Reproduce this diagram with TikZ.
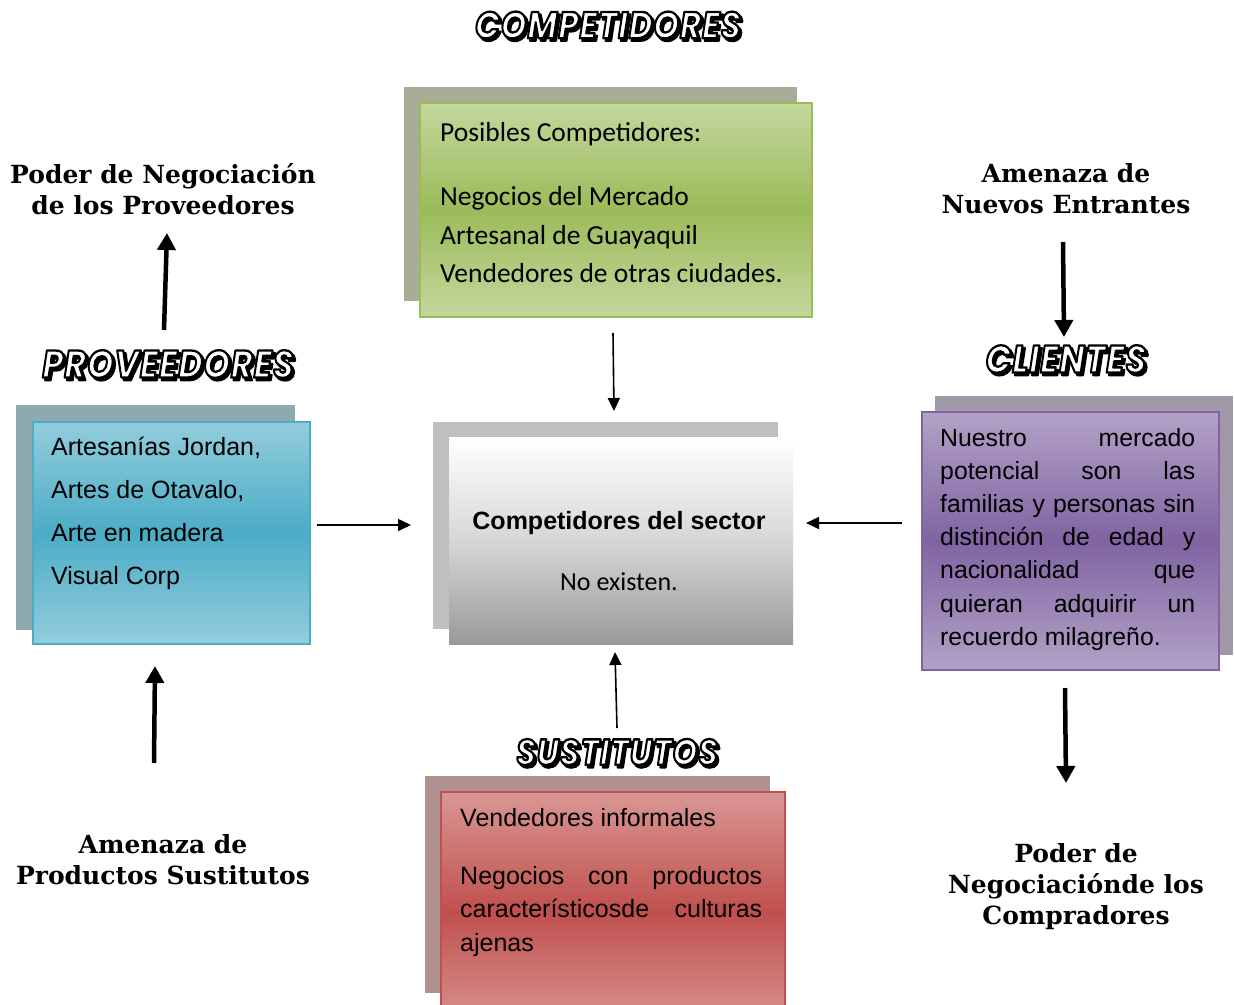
\documentclass[tikz,border=0pt]{standalone}
\usepackage{fontspec}
\usepackage{graphicx}
\usetikzlibrary{arrows.meta}
\newfontfamily\arialf{Liberation Sans}
\newfontfamily\calibf{Carlito}
\newfontfamily\labelserif{DejaVu Serif}
\newfontfamily\comicf[LetterSpace=3]{Poppins}

% stroked (outlined) lettering through the PDF text render mode
\newcommand\strokedtext[2]{%
  \special{pdf:literal direct 2 Tr #1 w 1 j 0 0 0 RG}#2\special{pdf:literal direct 0 Tr}}

% outlined title with a dark drop shadow
\newcommand\comictitle[4][35]{%
  \node[titlefont=#1, text=black, xshift=2.4pt, yshift=-2.6pt] at (#3)
    {\scalebox{1}[1.15]{\strokedtext{2}{#4}}};
  \node[titlefont=#1, text=white] (#2) at (#3)
    {\scalebox{1}[1.15]{\strokedtext{2}{#4}}};
}

\definecolor{grnA}{HTML}{C4D79E}
\definecolor{grnB}{HTML}{9BBB59}
\definecolor{grnS}{HTML}{A7AE95}
\definecolor{bluA}{HTML}{93CDDD}
\definecolor{bluB}{HTML}{4BACC6}
\definecolor{bluS}{HTML}{8FA9B0}
\definecolor{purA}{HTML}{B3A2C7}
\definecolor{purB}{HTML}{8064A2}
\definecolor{purS}{HTML}{A097A8}
\definecolor{redA}{HTML}{D99795}
\definecolor{redB}{HTML}{C0504D}
\definecolor{redS}{HTML}{B19190}

\begin{document}
\begin{tikzpicture}[x=1pt, y=-1pt,
  titlefont/.style={font=\comicf\bfseries\itshape\fontsize{#1}{#1}\selectfont, inner sep=0pt},
  shadowbox/.style={anchor=north west, inner sep=0pt, draw=none},
  mainbox/.style={anchor=north west, inner sep=0pt, line width=1.6pt},
  boxtext/.style={anchor=base west, inner sep=0pt, align=left},
  forcelabel/.style={font=\labelserif\bfseries\fontsize{25}{31}\selectfont, align=center, inner sep=0pt},
  thinarrow/.style={line width=1.6pt, -{Triangle[length=13pt, width=12pt]}},
  thickarrow/.style={line width=4.5pt, -{Triangle[length=17pt, width=18pt]}},
]
\useasboundingbox[fill=white] (0,0) rectangle (1234,1004);

% ---------- titles ----------
\comictitle[32.5]{tcomp}{608,25}{COMPETIDORES}
\comictitle[33.5]{tprov}{168,364}{PROVEEDORES}
\comictitle[33.5]{tcli}{1066,359}{CLIENTES}
\comictitle[31.5]{tsus}{617,752}{SUSTITUTOS}

% ---------- competidores (green) ----------
\node[shadowbox, fill=grnS, minimum width=393pt, minimum height=214pt] (compS) at (404,87) {};
\node[mainbox, draw=grnB, top color=grnA, bottom color=grnA, middle color=grnB,
      minimum width=392pt, minimum height=214pt] (comp) at (419,102) {};
\node[boxtext, font=\calibf\fontsize{27.5}{38.5}\selectfont] (compT) at (440,141)
  {\parbox[t]{360pt}{Posibles Competidores:\\[26pt]
   Negocios del Mercado\\Artesanal de Guayaquil\\Vendedores de otras ciudades.}};

% ---------- sector (grey) ----------
\node[shadowbox, fill=black!25, minimum width=345pt, minimum height=207pt] (secS) at (433,422) {};
\node[shadowbox, top color=white, bottom color=black!40, middle color=black!16,
      minimum width=344pt, minimum height=207pt] (sec) at (449,437) {};
\node[inner sep=0pt, anchor=base, font=\arialf\bfseries\fontsize{25}{26}\selectfont] (secT)
  at (619,529) {Competidores del sector};
\node[inner sep=0pt, anchor=base, font=\calibf\fontsize{26}{28}\selectfont] (secN)
  at (619,590) {No existen.};

% ---------- proveedores (blue) ----------
\node[shadowbox, fill=bluS, minimum width=279pt, minimum height=225pt] (provS) at (16,405) {};
\node[mainbox, draw=bluB, top color=bluA, bottom color=bluA, middle color=bluB,
      minimum width=277pt, minimum height=222pt] (prov) at (32,421) {};
\node[boxtext, font=\arialf\fontsize{25}{43.3}\selectfont] (provT) at (51,455)
  {\parbox[t]{250pt}{Artesanías Jordan,\\Artes de Otavalo,\\Arte en madera\\Visual Corp}};

% ---------- clientes (purple) ----------
\node[shadowbox, fill=purS, minimum width=298pt, minimum height=259pt] (cliS) at (935,396) {};
\node[mainbox, draw=purB, top color=purA, bottom color=purA, middle color=purB,
      minimum width=297pt, minimum height=258pt] (cli) at (921,411) {};
\node[boxtext, font=\arialf\fontsize{24.8}{33.2}\selectfont] (cliT) at (940,446)
  {\parbox[t]{255pt}{%
   \makebox[255pt][s]{Nuestro mercado}\\
   \makebox[255pt][s]{potencial son las}\\
   \makebox[255pt][s]{familias y personas sin}\\
   \makebox[255pt][s]{distinción de edad y}\\
   \makebox[255pt][s]{nacionalidad que}\\
   \makebox[255pt][s]{quieran adquirir un}\\
   recuerdo milagreño.}};

% ---------- sustitutos (red) ----------
\node[shadowbox, fill=redS, minimum width=345pt, minimum height=217pt] (susS) at (425,776) {};
\node[mainbox, draw=redB, top color=redA, bottom color=redA, middle color=redB,
      minimum width=344pt, minimum height=240pt] (sus) at (440,791) {};
\node[boxtext, font=\arialf\fontsize{25}{33.5}\selectfont] (susT) at (460,826)
  {\parbox[t]{302pt}{Vendedores informales\\[24.5pt]
   \makebox[302pt][s]{Negocios con productos}\\
   \makebox[302pt][s]{característicosde culturas}\\
   ajenas}};

% ---------- outer labels ----------
\node[forcelabel] (lprov) at (163,189) {Poder de Negociación\\de los Proveedores};
\node[forcelabel] (lent) at (1066,189) {Amenaza de\\Nuevos Entrantes};
\node[forcelabel] (lsus) at (163,860) {Amenaza de\\Productos Sustitutos};
\node[forcelabel] (lcomp) at (1076,887) {Poder de\\Negociaciónde los\\Compradores};

% ---------- connectors ----------
\coordinate (a1s) at (613,333); \coordinate (a1e) at (614,411);
\draw[thinarrow] (a1s) -- (a1e);
\coordinate (a2s) at (317,525); \coordinate (a2e) at (411,525);
\draw[thinarrow] (a2s) -- (a2e);
\coordinate (a3s) at (902,523); \coordinate (a3e) at (806,523);
\draw[thinarrow] (a3s) -- (a3e);
\coordinate (a4s) at (617,728); \coordinate (a4e) at (615,652);
\draw[thinarrow] (a4s) -- (a4e);

\coordinate (b1s) at (164,330); \coordinate (b1e) at (167,233);
\draw[thickarrow] (b1s) -- (b1e);
\coordinate (b2s) at (154,763); \coordinate (b2e) at (155,666);
\draw[thickarrow] (b2s) -- (b2e);
\coordinate (b3s) at (1063,242); \coordinate (b3e) at (1064,337);
\draw[thickarrow] (b3s) -- (b3e);
\coordinate (b4s) at (1065,688); \coordinate (b4e) at (1066,783);
\draw[thickarrow] (b4s) -- (b4e);
\end{tikzpicture}
\end{document}
